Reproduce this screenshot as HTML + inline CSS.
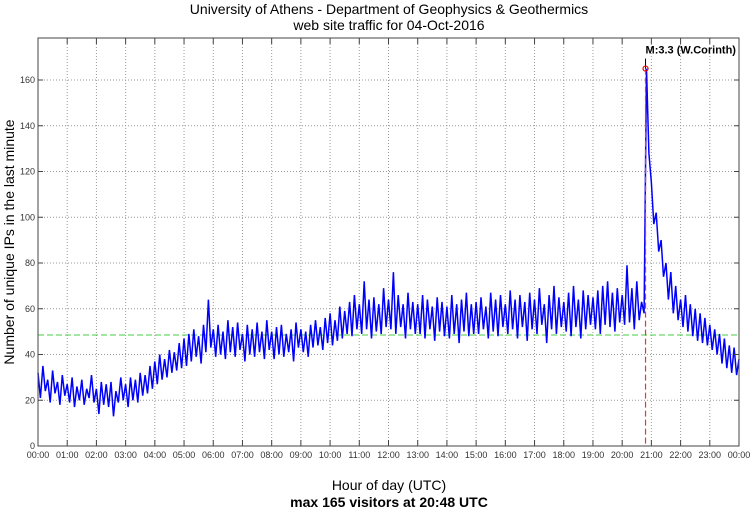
<!DOCTYPE html>
<html><head><meta charset="utf-8"><style>
body{margin:0;background:#fff;}
svg{display:block;font-family:"Liberation Sans",sans-serif;}
</style></head><body>
<svg id="chart" width="750" height="511" viewBox="0 0 750 511">
<text x="389" y="14" text-anchor="middle" font-size="14" fill="#000">University of Athens - Department of Geophysics &amp; Geothermics</text>
<text x="389" y="30" text-anchor="middle" font-size="14" fill="#000">web site traffic for 04-Oct-2016</text>
<text transform="translate(14,242) rotate(-90)" text-anchor="middle" font-size="14" fill="#000">Number of unique IPs in the last minute</text>
<text x="389" y="490" text-anchor="middle" font-size="14" fill="#000">Hour of day (UTC)</text>
<text x="389" y="507" text-anchor="middle" font-size="14" font-weight="bold" fill="#000">max 165 visitors at 20:48 UTC</text>
<g id="grid"></g><g id="series"></g><g id="axes"></g>
</svg>
<script>
const hourLabels=["00:00","01:00","02:00","03:00","04:00","05:00","06:00","07:00","08:00","09:00","10:00","11:00","12:00","13:00","14:00","15:00","16:00","17:00","18:00","19:00","20:00","21:00","22:00","23:00","00:00"];
const yTicks=[0,20,40,60,80,100,120,140,160];
const meanLevel=48.5;
const peakValue=165;
const peakMinute=20*60+48;
const eventLabel="M:3.3 (W.Corinth)";
const visitors=[
32,21,35,24,29,19,33,23,28,18,31,22,
27,19,30,17,26,20,29,18,25,21,31,19,
25,14,28,18,27,17,28,13,24,19,30,20,
27,17,30,20,29,19,32,22,31,23,35,25,
37,27,40,29,38,30,42,32,41,33,45,34,
47,35,49,37,51,39,48,36,53,41,64,43,
51,39,53,40,50,38,55,41,52,39,54,42,
49,37,53,40,51,39,54,41,50,38,55,42,
50,38,52,40,53,39,49,41,51,37,54,43,
51,41,50,39,53,43,55,44,52,42,56,45,
58,44,55,46,61,47,59,49,63,48,66,51,
62,49,72,51,64,47,65,50,62,49,69,52,
64,51,76,49,66,52,62,47,67,51,63,49,
62,49,66,47,64,51,61,46,65,50,63,48,
61,47,66,49,62,45,64,50,67,48,62,49,
63,49,65,51,61,47,67,50,64,48,66,52,
62,49,68,51,64,47,66,52,63,46,67,51,
64,49,69,53,62,45,66,51,70,49,65,52,
63,50,67,48,70,52,64,47,68,51,66,53,
65,51,68,49,70,53,72,52,67,50,69,54,
66,53,79,54,69,51,72,55,63,58,165,128,
115,97,102,85,90,74,80,64,76,58,70,55,
64,52,66,50,62,48,60,46,58,45,56,44,
53,42,51,40,49,36,47,34,44,32,43,31,38];
const stepMin=5;
const L=38,R=739,T=38,B=446;
const xS=m=>L+(R-L)*m/1440;
const yS=v=>B-(B-80)*v/160;
const NS="http://www.w3.org/2000/svg";
function mk(tag,attrs,parent){const e=document.createElementNS(NS,tag);for(const k in attrs)e.setAttribute(k,attrs[k]);parent.appendChild(e);return e;}
const grid=document.getElementById('grid'),ser=document.getElementById('series'),ax=document.getElementById('axes');
hourLabels.forEach((h,i)=>{const x=xS(i*60);
 if(i>0&&i<24){const g=mk('line',{x1:x,x2:x,y1:T,y2:B,stroke:'#999','stroke-dasharray':'1,2','stroke-width':1},grid);
 
 }
 const t=mk('line',{x1:x,x2:x,y1:B,y2:B-6,stroke:'#444'},ax);
 
 
 const t2=mk('line',{x1:x,x2:x,y1:T,y2:T+6,stroke:'#444'},ax);
 
 
 const lb=mk('text',{x:x,y:B+12,'text-anchor':'middle','font-size':9,fill:'#333'},ax);lb.textContent=h;
 
 
});
yTicks.forEach(v=>{const y=yS(v);
 if(v>0){const g=mk('line',{x1:L,x2:R,y1:y,y2:y,stroke:'#999','stroke-dasharray':'1,2'},grid);
 
 }
 const t=mk('line',{x1:L,x2:L+5,y1:y,y2:y,stroke:'#444'},ax);
 
 
 const t2=mk('line',{x1:R-5,x2:R,y1:y,y2:y,stroke:'#444'},ax);
 
 
 const lb=mk('text',{x:L-3,y:y+3,'text-anchor':'end','font-size':9,fill:'#333'},ax);lb.textContent=v;
 
 
});
const frame=mk('rect',{x:L,y:T,width:R-L,height:B-T,fill:'none',stroke:'#444','stroke-width':1},ax);


const ml=mk('line',{x1:L,x2:R,y1:yS(meanLevel),y2:yS(meanLevel),stroke:'#4c4','stroke-dasharray':'6,3'},ser);


const pts=visitors.map((v,i)=>xS(i*stepMin).toFixed(1)+','+yS(v).toFixed(1)).join(' ');
const pl=mk('polyline',{points:pts,fill:'none',stroke:'#0000ff','stroke-width':1.5,'stroke-linejoin':'miter'},ser);


const px=xS(peakMinute),py=yS(peakValue);
const el=mk('line',{x1:px,x2:px,y1:py,y2:B,stroke:'#e33','stroke-dasharray':'6,3','stroke-width':1.2},ser);


const ll=mk('line',{x1:px,x2:px,y1:py,y2:py-10,stroke:'#000'},ser);


const mc=mk('circle',{cx:px,cy:py,r:2.5,fill:'none',stroke:'#e00','stroke-width':1.2},ser);


const et=mk('text',{x:px,y:py-15,'font-size':11,'font-weight':'bold',fill:'#000'},ser);et.textContent=eventLabel;


</script>
</body></html>
